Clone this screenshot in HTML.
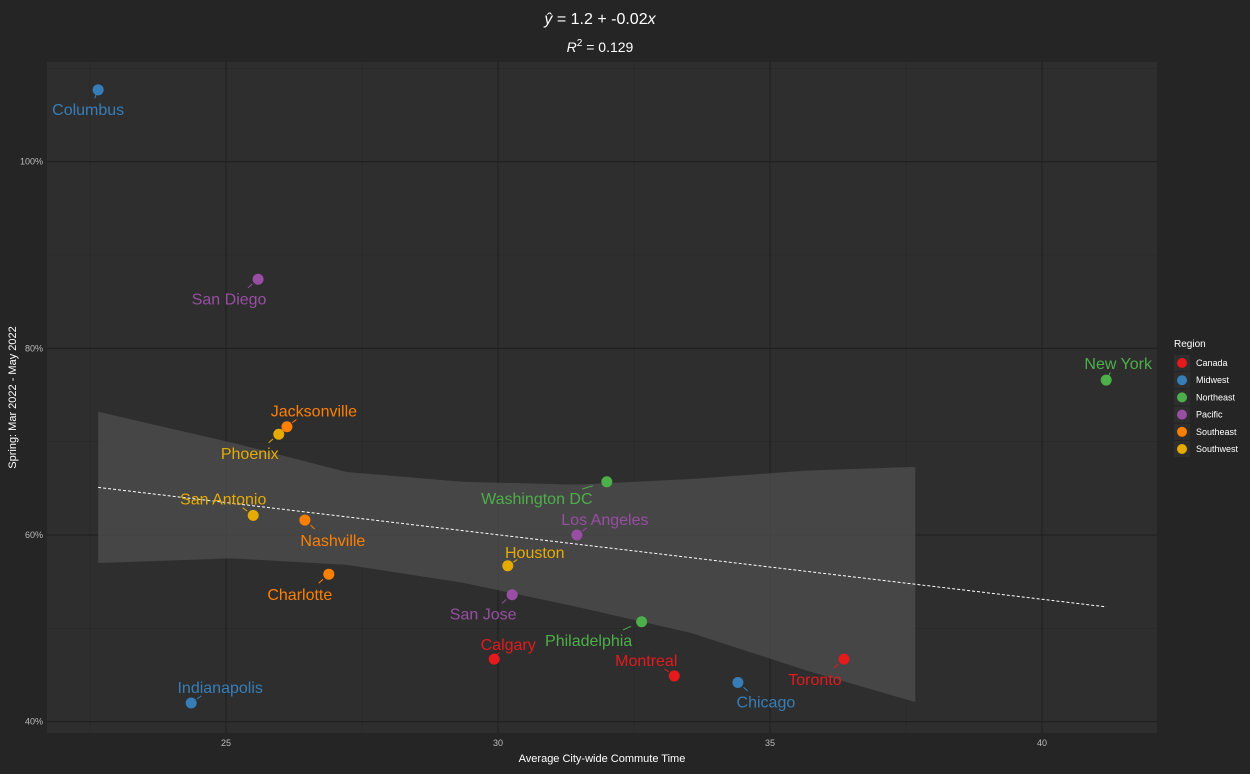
<!DOCTYPE html>
<html><head><meta charset="utf-8"><style>
body{margin:0;background:#252525;font-family:"Liberation Sans",sans-serif;}
svg text{font-family:"Liberation Sans",sans-serif;}
</style></head><body>
<svg id="chart" width="1250" height="769" xmlns="http://www.w3.org/2000/svg">
<rect width="1250" height="769" fill="#252525"/>
<text x="600" y="24" fill="#fff" font-size="16" text-anchor="middle"><tspan font-style="italic">ŷ</tspan> = 1.2 + -0.02<tspan font-style="italic">x</tspan></text>
<text x="600" y="52" fill="#fff" font-size="14" text-anchor="middle"><tspan font-style="italic">R</tspan><tspan dy="-6" font-size="10">2</tspan><tspan dy="6"> = 0.129</tspan></text>
<g id="plot"></g>
</svg>
<script>
const cities=["Columbus","San Diego","New York","Jacksonville","Phoenix","Washington DC","San Antonio","Nashville","Los Angeles","Houston","Charlotte","San Jose","Philadelphia","Calgary","Montreal","Toronto","Chicago","Indianapolis"];
const regions=["Midwest","Pacific","Northeast","Southeast","Southwest","Northeast","Southwest","Southeast","Pacific","Southwest","Southeast","Pacific","Northeast","Canada","Canada","Canada","Midwest","Midwest"];
const commute=[22.65,25.59,41.18,26.12,25.97,32.0,25.5,26.45,31.45,30.18,26.89,30.26,32.64,29.93,33.24,36.36,34.41,24.36];
const spring=[107.7,87.4,76.6,71.6,70.8,65.7,62.1,61.6,60.0,56.7,55.8,53.6,50.7,46.7,44.9,46.7,44.2,42.0];
const bandX=[22.65,25.11,27.22,29.34,31.45,33.55,35.66,37.67];
const bandUpper=[73.2,69.9,66.75,65.7,65.4,66.0,66.9,67.3];
const bandLower=[57.0,57.5,56.8,54.9,52.3,49.5,45.5,42.1];
const fitX=[22.65,41.18];
const fitY=[65.1,52.3];
const regionNames=["Canada","Midwest","Northeast","Pacific","Southeast","Southwest"];
const regionColors=["#E41A1C","#377EB8","#4DAF4A","#984EA3","#FF7F00","#E6AB02"];
const xTicks=[25,30,35,40];
const yTicks=[40,60,80,100];
// label offsets (styling, px)
const lblOff=[[-10,19],[-29,19],[12,-17],[27,-16],[-29,19],[-70,16],[-30,-17],[28,20],[28,-16],[27,-14],[-29,20],[-29,19],[-53,18],[14,-15],[-28,-16],[-29,20],[28,19],[29,-16]];

const L=47,R=1157,T=62,B=733;
const X=v=>226+(v-25)*54.4;
const Y=v=>535-(v-60)*9.333;
const NS="http://www.w3.org/2000/svg";
const g=document.getElementById('plot');
function mk(t,a,p){const e=document.createElementNS(NS,t);for(const k in a)e.setAttribute(k,a[k]);(p||g).appendChild(e);return e;}

let r=mk('rect',{x:L,y:T,width:R-L,height:B-T,fill:'#2e2e2e'});


// minor grid
[22.5,27.5,32.5,37.5].forEach(v=>{const l=mk('line',{x1:X(v),x2:X(v),y1:T,y2:B,stroke:'#282828','stroke-width':0.6});

});
[50,70,90,110].forEach(v=>{const l=mk('line',{x1:L,x2:R,y1:Y(v),y2:Y(v),stroke:'#282828','stroke-width':0.6});

});
xTicks.forEach(v=>{const l=mk('line',{x1:X(v),x2:X(v),y1:T,y2:B,stroke:'#1f1f1f','stroke-width':1.1});


const t=mk('text',{x:X(v),y:B+13,fill:'#bbb','font-size':9,'text-anchor':'middle'});t.textContent=v;

});
yTicks.forEach(v=>{const l=mk('line',{x1:L,x2:R,y1:Y(v),y2:Y(v),stroke:'#1f1f1f','stroke-width':1.1});


const t=mk('text',{x:L-4,y:Y(v)+3,fill:'#bbb','font-size':9,'text-anchor':'end'});t.textContent=v+'%';

});
// band
let pts=bandX.map((x,i)=>X(x)+','+Y(bandUpper[i]));
for(let i=bandX.length-1;i>=0;i--)pts.push(X(bandX[i])+','+Y(bandLower[i]));
const band=mk('polygon',{points:pts.join(' '),fill:'#4a4a4a','fill-opacity':0.85});


const fl=mk('line',{x1:X(fitX[0]),y1:Y(fitY[0]),x2:X(fitX[1]),y2:Y(fitY[1]),stroke:'#fff','stroke-width':1,'stroke-dasharray':'3,2'});


// points
cities.forEach((c,i)=>{
 const col=regionColors[regionNames.indexOf(regions[i])];
 const px=X(commute[i]),py=Y(spring[i]);
 const [dx,dy]=lblOff[i];
 const ln=mk('line',{x1:px+dx*0.2,y1:py+dy*0.25,x2:px+dx*0.35,y2:py+dy*0.45,stroke:col,'stroke-width':1});
 
 
 const p=mk('circle',{cx:px,cy:py,r:5.5,fill:col});
 
 
 const t=mk('text',{x:px+dx,y:py+dy+6,fill:col,'font-size':16,'text-anchor':'middle'});t.textContent=c;
 
 
});
const xt=mk('text',{x:(L+R)/2,y:762,fill:'#fff','font-size':11,'text-anchor':'middle'});xt.textContent='Average City-wide Commute Time';


const yt=mk('text',{x:0,y:0,fill:'#fff','font-size':11,'text-anchor':'middle',transform:`translate(16,${(T+B)/2}) rotate(-90)`});yt.textContent='Spring: Mar 2022 - May 2022';


const lt=mk('text',{x:1174,y:347,fill:'#fff','font-size':10});lt.textContent='Region';


regionNames.forEach((n,i)=>{const y=363+i*17.2;
 const b=mk('rect',{x:1174,y:y-8,width:16,height:16,fill:'#2e2e2e'});
 
 
 const c=mk('circle',{cx:1182,cy:y,r:5,fill:regionColors[i]});
 
 
 const t=mk('text',{x:1196,y:y+3,fill:'#fff','font-size':9});t.textContent=n;
 
 
});
</script>
</body></html>
